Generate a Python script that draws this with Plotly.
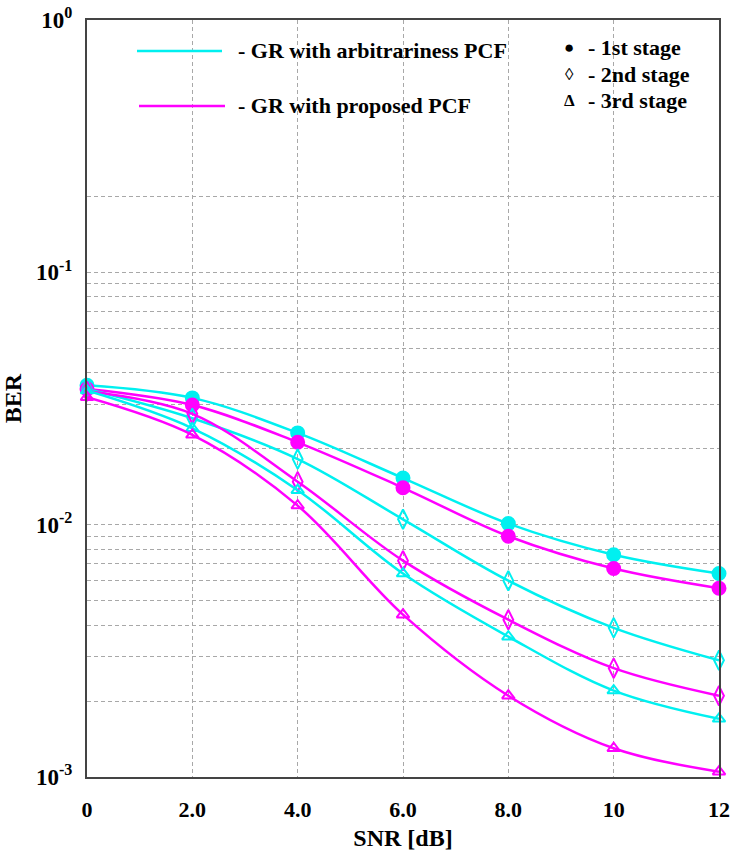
import plotly.graph_objects as go

snr = [0, 2, 4, 6, 8, 10, 12]

# BER values
gr_arb_1st = [0.0357, 0.0318, 0.0231, 0.0153, 0.0101, 0.0076, 0.0064]
gr_arb_2nd = [0.0345, 0.0264, 0.0182, 0.0105, 0.0060, 0.0039, 0.0029]
gr_arb_3rd = [0.0340, 0.0241, 0.0137, 0.0064, 0.0036, 0.0022, 0.0017]
gr_pro_1st = [0.0345, 0.0298, 0.0212, 0.0140, 0.0090, 0.0067, 0.0056]
gr_pro_2nd = [0.0338, 0.0275, 0.0148, 0.0072, 0.0042, 0.0027, 0.0021]
gr_pro_3rd = [0.0320, 0.0227, 0.0119, 0.0044, 0.0021, 0.0013, 0.00105]

x_tickvals = [0, 2, 4, 6, 8, 10, 12]
x_ticktext = ["0", "2.0", "4.0", "6.0", "8.0", "10", "12"]
y_tickvals = [1, 0.1, 0.01, 0.001]
y_exps = ["0", "-1", "-2", "-3"]
y_minor = [0.2, 0.09, 0.08, 0.07, 0.06, 0.05, 0.04, 0.03, 0.02,
           0.009, 0.008, 0.007, 0.006, 0.005, 0.004, 0.003, 0.002]

CYAN = "#00F0F0"
MAG = "#FF00FF"
FONT = "Liberation Serif"

series = [
    (gr_arb_1st, CYAN, "circle", 13),
    (gr_pro_1st, MAG, "circle", 13),
    (gr_arb_2nd, CYAN, "diamond-tall-open", 14),
    (gr_pro_2nd, MAG, "diamond-tall-open", 14),
    (gr_arb_3rd, CYAN, "triangle-up-open", 11),
    (gr_pro_3rd, MAG, "triangle-up-open", 11),
]

fig = go.Figure()
for ys, col, sym, sz in series:
    fig.add_trace(go.Scatter(
        x=snr, y=ys, mode="lines+markers",
        line=dict(color=col, width=2.5, shape="spline", smoothing=1.0),
        marker=dict(symbol=sym, size=sz, color=col, line=dict(color=col, width=2)),
        cliponaxis=False, showlegend=False,
    ))

grid_col = "#a8a8a8"
fig.update_layout(
    width=730, height=857,
    margin=dict(l=87, r=11, t=20, b=80),
    paper_bgcolor="white", plot_bgcolor="white",
    font=dict(family=FONT, size=22, color="black", weight="bold"),
    xaxis=dict(
        range=[0, 12], tickvals=x_tickvals, ticktext=x_ticktext,
        showgrid=True, gridcolor=grid_col, griddash="4px,3px", gridwidth=1,
        showline=True, linecolor="#444", linewidth=2, mirror=True,
        ticks="", ticklabelstandoff=12, zeroline=False, automargin=False,
        title=dict(text="SNR [dB]", font=dict(size=24, family=FONT, weight="bold"), standoff=8),
        tickfont=dict(size=22, family=FONT, weight="bold"),
    ),
    yaxis=dict(
        type="log", range=[-3, 0], tickvals=y_tickvals,
        ticktext=["10<sup>%s</sup>" % e for e in y_exps],
        showgrid=True, gridcolor=grid_col, griddash="4px,3px", gridwidth=1,
        showline=True, linecolor="#444", linewidth=2, mirror=True,
        ticks="", ticklabelstandoff=8, zeroline=False, automargin=False,
        minor=dict(tickvals=y_minor, showgrid=True, gridcolor=grid_col,
                   griddash="4px,3px", gridwidth=1, ticks=""),
        title=dict(text="BER", font=dict(size=24, family=FONT, weight="bold"), standoff=10),
        tickfont=dict(size=23, family=FONT, weight="bold"),
    ),
)

# custom legend (paper coordinates)
def px2paper_x(px):
    return (px - 87) / (719 - 87)

def py2paper_y(py):
    return (777 - py) / (777 - 20)

legend_lines = [
    (CYAN, 137, 222, 51, "- GR with arbitrariness PCF"),
    (MAG, 139, 225, 106, "- GR with proposed PCF"),
]
for col, xa, xb, yy, txt in legend_lines:
    fig.add_shape(type="line", xref="paper", yref="paper",
                  x0=px2paper_x(xa), x1=px2paper_x(xb),
                  y0=py2paper_y(yy), y1=py2paper_y(yy),
                  line=dict(color=col, width=2.5))
    fig.add_annotation(xref="paper", yref="paper", x=px2paper_x(236), y=py2paper_y(yy),
                       text=txt, showarrow=False, xanchor="left", yanchor="middle",
                       font=dict(size=22, family=FONT, weight="bold"))

stage_items = [("●", 48, "- 1st stage"), ("◊", 74, "- 2nd stage"), ("Δ", 100, "- 3rd stage")]
for sym, yy, txt in stage_items:
    fig.add_annotation(xref="paper", yref="paper", x=px2paper_x(569), y=py2paper_y(yy),
                       text=sym, showarrow=False, xanchor="center", yanchor="middle",
                       font=dict(size=17, family=FONT, weight="bold"))
    fig.add_annotation(xref="paper", yref="paper", x=px2paper_x(586), y=py2paper_y(yy),
                       text=txt, showarrow=False, xanchor="left", yanchor="middle",
                       font=dict(size=22, family=FONT, weight="bold"))

fig.write_html("out.html")
